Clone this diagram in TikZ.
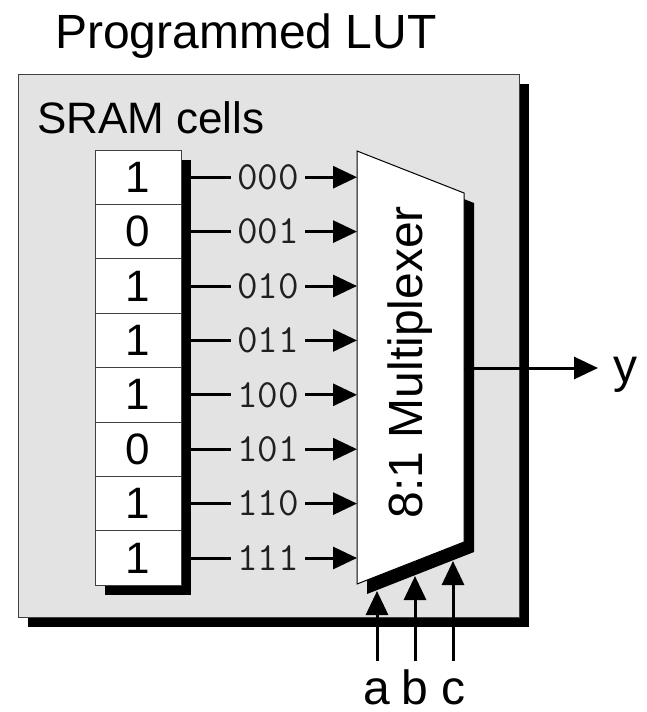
\documentclass[tikz,border=0pt]{standalone}
\usepackage{fontspec}
\setmainfont{Liberation Sans}
\usetikzlibrary{arrows.meta}
\definecolor{boxgray}{HTML}{E3E3E3}
\definecolor{edgegray}{HTML}{404040}
\definecolor{addrgray}{HTML}{202020}
\tikzset{
  big/.style={font=\fontsize{48}{48}\selectfont},
  cell/.style={draw=edgegray, fill=white, line width=1pt,
    minimum width=86pt, minimum height=54.4pt, inner sep=0pt,
    font=\fontsize{44}{44}\selectfont},
  addr/.style={inner xsep=6pt, inner ysep=0pt, text=addrgray,
    font=\ttfamily\fontsize{40}{40}\selectfont},
  wire/.style={line width=3pt},
  arrowline/.style={line width=3pt, -{Triangle[length=24pt,width=22pt]}},
  selname/.style={big, anchor=base, text height=43pt, text depth=0pt, inner sep=0pt},
}
\begin{document}
\begin{tikzpicture}[x=1pt, y=-1pt]
  \useasboundingbox (0,0) rectangle (647,712);

  % title
  \node[big, anchor=base] (title) at (246,48) {Programmed LUT};

  % LUT enclosure with its drop shadow
  \fill (28,84) rectangle (529,627);
  \draw[fill=boxgray, draw=edgegray, line width=1pt] (18,74) rectangle (519,617);
  \node[anchor=base west, inner sep=0pt, font=\fontsize{44}{44}\selectfont] (sram) at (37,133) {SRAM cells};

  % multiplexer outline points
  \coordinate (mTL) at (357,151);
  \coordinate (mTR) at (464,193);
  \coordinate (mBR) at (464,542);
  \coordinate (mBL) at (357,584);

  % wires from the cells to the address labels (under the column shadow)
  \foreach \i/\bits in {0/000,1/001,2/010,3/011,4/100,5/101,6/110,7/111} {
    \pgfmathsetmacro{\yy}{177.2+54.4*\i}
    \node[addr] (a\i) at (268,\yy) {\bits};
    \coordinate (w\i) at (181,\yy);
    \coordinate (m\i) at (357,\yy);
    \draw[wire] (w\i) -- (a\i.west);
    \draw[arrowline] (a\i.east) -- (m\i);
  }

  % SRAM column shadow and cells
  \fill (105,160) rectangle (191,595);
  \foreach \i/\v in {0/1,1/0,2/1,3/1,4/1,5/0,6/1,7/1} {
    \pgfmathsetmacro{\yy}{177.2+54.4*\i}
    \node[cell] (c\i) at (138,\yy) {\v};
  }

  % multiplexer with shadow
  \fill ([shift={(10,10)}]mTL) -- ([shift={(10,10)}]mTR) -- ([shift={(10,10)}]mBR) -- ([shift={(10,10)}]mBL) -- cycle;
  \draw[fill=white, line width=1pt] (mTL) -- (mTR) -- (mBR) -- (mBL) -- cycle;
  \node[big, rotate=90] (muxlabel) at (410.5,362) {8:1 Multiplexer};

  % output
  \coordinate (out) at (464,368);
  \node[big, anchor=base west, inner xsep=15pt, inner ysep=0pt] (y) at (598,382) {y};
  \draw[arrowline] (out) -- (y.west |- out);

  % select inputs ending on the shadow edge
  \coordinate (sa) at (377,591);
  \coordinate (sb) at (415,576);
  \coordinate (sc) at (453,561);
  \node[selname] (a) at (377,704) {a};
  \node[selname] (b) at (415,704) {b};
  \node[selname] (c) at (453,704) {c};
  \draw[arrowline] (a.north) -- (sa);
  \draw[arrowline] (b.north) -- (sb);
  \draw[arrowline] (c.north) -- (sc);
\end{tikzpicture}
\end{document}
